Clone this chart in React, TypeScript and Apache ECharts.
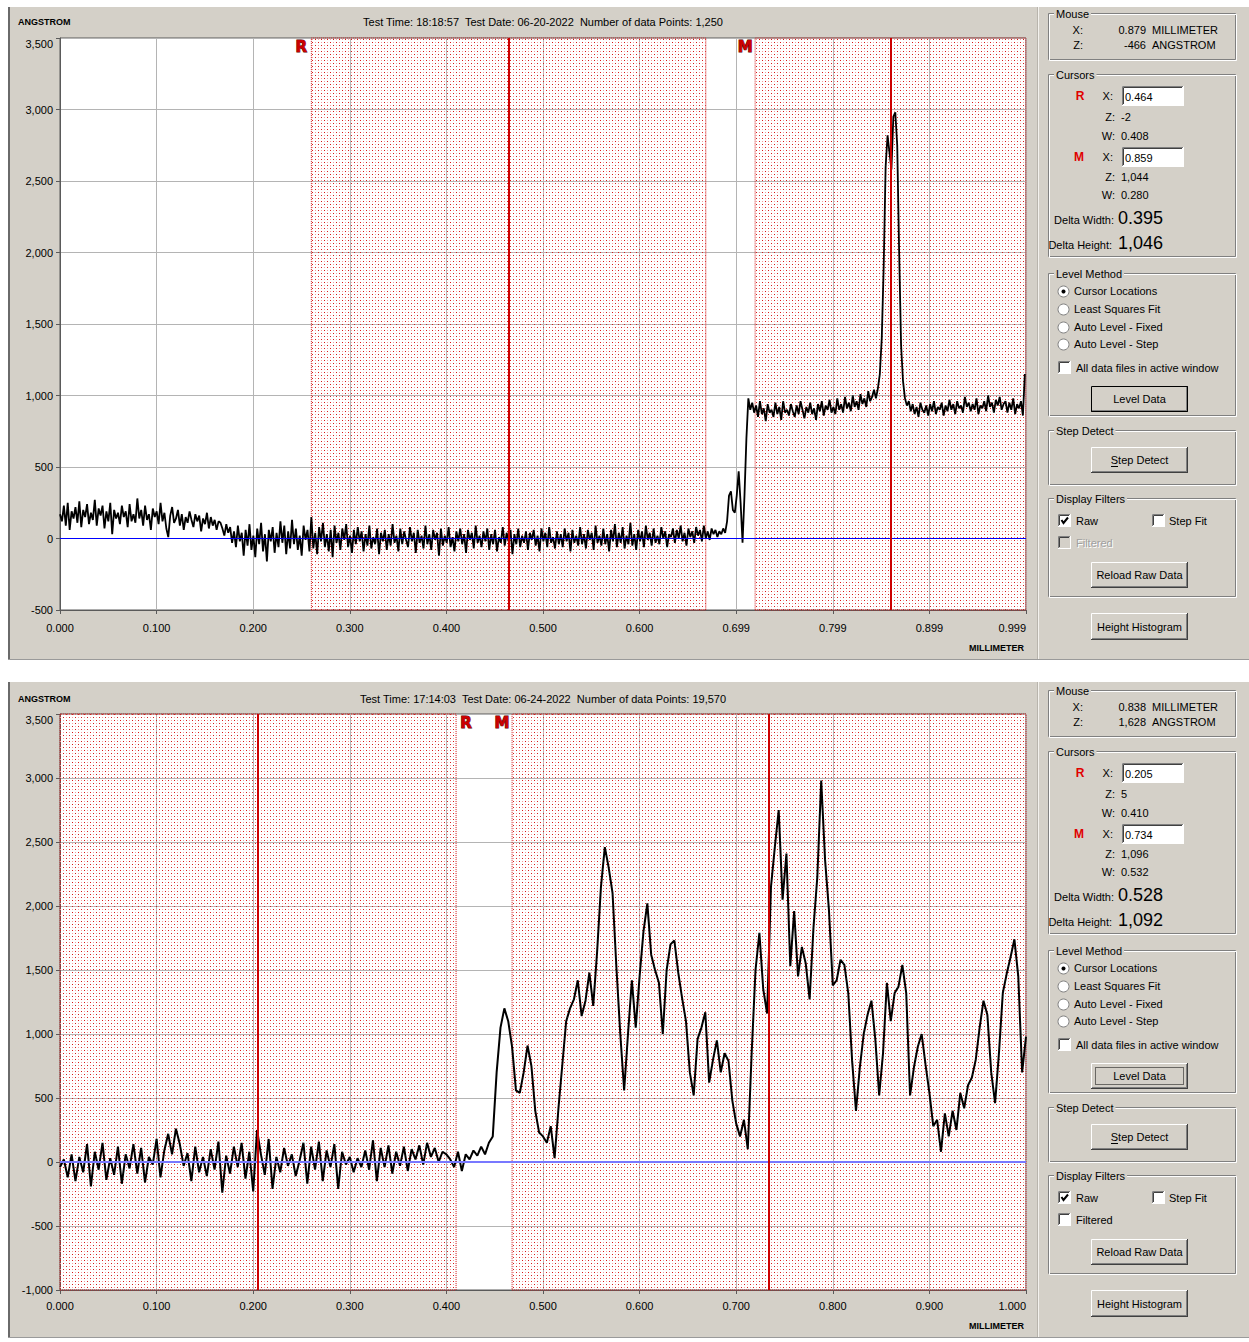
import React, { useEffect, useRef } from 'react';
import * as echarts from 'echarts';

const FONT = '"Liberation Sans", Arial, sans-serif';
const FACE = '#d4d0c8';

// ---------------- top profile (06-20-2022) ----------------
const TOP_X_STEP = 0.002;
const TOP_X_MAX = 0.9992;
const TOP_X_INTERVAL = 0.09992;
const topXTickLabels = ['0.000', '0.100', '0.200', '0.300', '0.400', '0.500', '0.600', '0.699', '0.799', '0.899', '0.999'];
const topYRange = [-500, 3500];
const topHeights = [
  170, 120, 230, 90, 250, 60, 190, 140, 220, 110,
  260, 80, 200, 150, 240, 100, 180, 130, 270, 90,
  210, 160, 230, 70, 190, 120, 250, 30, 200, 140,
  180, 100, 230, 150, 190, 80, 240, 120, 170, 110,
  280, 140, 200, 90, 230, 130, 170, 60, 210, 150,
  190, 100, 250, 120, 180, 70, 10, 160, 220, 110,
  140, 200, 90, 170, 60, 150, 110, 190, 130, 80,
  170, 120, 160, 50, 140, 100, 180, 70, 150, 90,
  130, 60, 120, 110, 70, 20, 100, 40, 80, -30,
  50, -60, 90, -20, 40, -120, 60, -50, 100, -80,
  20, -130, 70, -40, 110, -90, 30, -160, 60, -20,
  80, -100, 40, -60, 120, -30, 90, -110, 50, -70,
  130, -40, 70, -80, 20, -120, 90, -10, 60, -90,
  150, -70, 40, -110, 80, -20, 110, -60, 30, -90,
  60, -130, 90, -30, 40, -80, 70, -10, 100, -60,
  20, -100, 60, -40, 80, -20, 50, -90, 30, -50,
  90, -70, 10, -40, 70, -110, 40, -20, 60, -80,
  30, -50, 100, -30, 20, -90, 70, -40, 50, -10,
  -60, 80, -20, 40, -100, 60, -30, 20, -70, 90,
  -40, 30, -80, 60, -10, 40, -120, 70, -50, 20,
  -30, 80, -60, 10, -90, 50, -20, 70, -40, 30,
  -100, 60, -10, 40, -70, 90, -30, 20, -60, 50,
  -20, 70, -80, 30, -40, 60, -90, 10, -30, 80,
  -50, 40, -20, 60, -110, 30, -40, 70, -60, 20,
  -30, 50, -80, 40, -10, 60, -50, 20, -90, 70,
  -20, 40, -60, 80, -30, 10, -70, 50, -40, 30,
  -60, 70, -20, 40, -90, 60, -30, 20, -50, 80,
  -40, 30, -70, 60, -10, 40, -80, 90, -30, 20,
  -50, 70, -40, 30, -90, 60, -20, 100, -60, 40,
  -30, 80, -70, 20, -40, 110, -50, 30, -80, 60,
  -20, 50, -60, 90, -10, 40, -50, 70, -30, 20,
  -40, 80, 0, 50, -60, 30, 10, 70, -30, 60,
  0, 90, -20, 40, -50, 70, 10, 50, -30, 80,
  20, 60, -20, 90, 0, 50, -10, 70, 30, 60,
  10, 50, 30, 70, 40, 120, 300, 330, 200, 180,
  300, 470, 250, -30, 300, 700, 980, 900, 950, 880,
  930, 850, 960, 870, 910, 820, 940, 880, 900, 850,
  950, 870, 920, 830, 960, 880, 900, 860, 940, 890,
  850, 930, 870, 960, 900, 840, 920, 880, 950, 870,
  910, 830, 940, 890, 960, 860, 930, 900, 970, 880,
  920, 870, 980, 900, 940, 880, 990, 910, 950, 890,
  1000, 920, 960, 900, 1010, 940, 980, 920, 1030, 960,
  990, 1040, 980, 1050, 1150, 1400, 1900, 2600, 2820, 2700,
  2580, 2950, 2980, 2750, 2000, 1350, 1100, 980, 930, 960,
  890, 940, 870, 920, 850, 950, 900, 880, 930, 860,
  940, 890, 960, 870, 920, 900, 950, 860, 930, 890,
  970, 900, 940, 870, 960, 910, 930, 880, 990, 920,
  950, 890, 940, 900, 980, 870, 930, 910, 960, 890,
  1000, 920, 950, 880, 970, 930, 990, 900, 940, 960,
  880, 950, 900, 980, 870, 940, 910, 960, 860, 1150,
];
const topCursors = [
  { name: 'R', x: 0.464, w: 0.408, labelSide: 'start' },
  { name: 'M', x: 0.859, w: 0.280, labelSide: 'start' },
];

// ---------------- bottom profile (06-24-2022) ----------------
const BOTTOM_X_STEP = 0.004;
const BOTTOM_X_MAX = 1.0;
const BOTTOM_X_INTERVAL = 0.1;
const bottomXTickLabels = ['0.000', '0.100', '0.200', '0.300', '0.400', '0.500', '0.600', '0.700', '0.800', '0.900', '1.000'];
const bottomYRange = [-1000, 3500];
const bottomHeights = [
  -40, 20, -120, 60, -150, 40, -80, 140, -190, 80,
  -60, 150, -140, 30, -100, 120, -170, 60, -50, 140,
  -90, 110, -160, 40, -20, 180, -120, 90, 220, 60,
  260, 140, -30, 70, -150, 120, -80, 40, -110, 100,
  -60, 160, -240, 50, -90, 120, -40, 150, -130, 80,
  -230, 250, 60, -100, 180, -210, 40, -80, 110, -30,
  60, -110, 10, 150, -170, 120, -60, 160, -150, 90,
  -40, 140, -210, 80, -20, 40, -80, 30, -40, 90,
  -60, 170, -150, 110, -40, 130, -90, 80, -30, 120,
  -70, 100, 20, 130, -20, 150, 40, 110, 0, 80,
  60, 20, -40, 80, -70, 60, 20, 90, 50, 120,
  60, 150, 200, 700, 1050, 1200, 1100, 900, 560, 540,
  700, 910, 750, 400, 230, 200, 150, 280, 30, 420,
  760, 1100, 1200, 1270, 1420, 1140, 1260, 1480, 1220, 1640,
  2150, 2460, 2300, 2100, 1520, 1000, 560, 1000, 1420, 1050,
  1450, 1800, 2020, 1620, 1500, 1400, 1000, 1500, 1700, 1730,
  1480, 1280, 1100, 700, 520, 960, 1050, 1170, 620, 800,
  950, 700, 850, 790, 480, 300, 200, 330, 100, 850,
  1500, 1790, 1350, 1160, 2150, 2460, 2750, 2050, 2410, 1530,
  1960, 1450, 1680, 1550, 1270, 1830, 2230, 2980, 2360, 1970,
  1380, 1420, 1580, 1540, 1320, 790, 400, 740, 1000, 1150,
  1260, 960, 520, 850, 1400, 1100, 1320, 1370, 1540, 1320,
  520, 740, 900, 1000, 760, 540, 280, 330, 80, 380,
  200, 400, 250, 540, 420, 600, 660, 800, 1050, 1260,
  1150, 700, 460, 850, 1320, 1470, 1600, 1740, 1450, 700,
  980,
];
const bottomCursors = [
  { name: 'R', x: 0.205, w: 0.410, labelSide: 'end' },
  { name: 'M', x: 0.734, w: 0.532, labelSide: 'start' },
];

const topInfo = {
  title: 'Test Time: 18:18:57  Test Date: 06-20-2022  Number of data Points: 1,250',
  mouseX: '0.879', mouseZ: '-466',
  rX: '0.464', rZ: '-2', rW: '0.408',
  mX: '0.859', mZ: '1,044', mW: '0.280',
  dW: '0.395', dH: '1,046',
  filteredEnabled: false, levelFocus: false,
};
const bottomInfo = {
  title: 'Test Time: 17:14:03  Test Date: 06-24-2022  Number of data Points: 19,570',
  mouseX: '0.838', mouseZ: '1,628',
  rX: '0.205', rZ: '5', rW: '0.410',
  mX: '0.734', mZ: '1,096', mW: '0.532',
  dW: '0.528', dH: '1,092',
  filteredEnabled: true, levelFocus: true,
};

// ---------------- graphic helpers ----------------
const T = (x: number, y: number, text: string, o: any = {}) => ({
  type: 'text', x, y, z: o.z ?? 102, silent: true,
  style: {
    text, fill: o.fill ?? '#000',
    font: `${o.bold ? 'bold ' : ''}${o.size ?? 11}px ${o.family ?? FONT}`,
    align: o.align ?? 'left', verticalAlign: 'middle',
    ...(o.bg ? { backgroundColor: o.bg, padding: [0, 2] } : {}),
  },
});
const Rc = (x: number, y: number, w: number, h: number, style: any, z = 100) => ({
  type: 'rect', z, silent: true, shape: { x, y, width: w, height: h }, style,
});
const Ln = (x1: number, y1: number, x2: number, y2: number, stroke: string, lineWidth = 1, z = 101, extra: any = {}) => ({
  type: 'line', z, silent: true, shape: { x1, y1, x2, y2 }, style: { stroke, lineWidth, ...extra },
});

function groupBox(x: number, y: number, w: number, h: number, title: string) {
  return [
    Rc(x + 0.5, y + 0.5, w - 1, h - 1, { fill: 'none', stroke: '#808080' }, 100),
    Rc(x + 1.5, y + 1.5, w - 1, h - 1, { fill: 'none', stroke: '#ffffff' }, 100),
    T(x + 6, y + 1, title, { bg: FACE, z: 103 }),
  ];
}

function button(x: number, y: number, w: number, h: number, label: string, o: any = {}) {
  const els: any[] = [
    Rc(x, y, w, h, { fill: FACE }, 100),
    Ln(x + 0.5, y + 0.5, x + w - 1, y + 0.5, '#ffffff'),
    Ln(x + 0.5, y + 0.5, x + 0.5, y + h - 1, '#ffffff'),
    Ln(x, y + h - 0.5, x + w, y + h - 0.5, '#404040'),
    Ln(x + w - 0.5, y, x + w - 0.5, y + h, '#404040'),
    Ln(x + 1, y + h - 1.5, x + w - 1, y + h - 1.5, '#808080'),
    Ln(x + w - 1.5, y + 1, x + w - 1.5, y + h - 1, '#808080'),
    T(x + w / 2, y + h / 2, label, { align: 'center' }),
  ];
  if (o.isDefault) els.push(Rc(x + 0.5, y + 0.5, w - 1, h - 1, { fill: 'none', stroke: '#000000' }, 101));
  if (o.focus) els.push(Rc(x + 4.5, y + 4.5, w - 9, h - 9, { fill: 'none', stroke: '#000000', lineDash: [1, 1] }, 101));
  if (o.underline) els.push(Ln(o.underline[0], y + h / 2 + 6.5, o.underline[1], y + h / 2 + 6.5, '#000000'));
  return els;
}

function checkbox(x: number, y: number, checked: boolean, disabled = false) {
  const els: any[] = [
    Rc(x, y, 13, 13, { fill: disabled ? FACE : '#ffffff' }, 100),
    Ln(x + 0.5, y + 0.5, x + 12, y + 0.5, '#808080'),
    Ln(x + 0.5, y + 0.5, x + 0.5, y + 12, '#808080'),
    Ln(x + 1.5, y + 1.5, x + 11, y + 1.5, '#404040'),
    Ln(x + 1.5, y + 1.5, x + 1.5, y + 11, '#404040'),
    Ln(x, y + 12.5, x + 13, y + 12.5, '#ffffff'),
    Ln(x + 12.5, y, x + 12.5, y + 13, '#ffffff'),
  ];
  if (checked) {
    els.push({
      type: 'polyline', z: 102, silent: true,
      shape: { points: [[x + 3.5, y + 6], [x + 5.5, y + 9], [x + 10, y + 3.5]] },
      style: { stroke: '#000', lineWidth: 2, fill: 'none' },
    });
  }
  return els;
}

function radio(cx: number, cy: number, on: boolean) {
  const els: any[] = [
    { type: 'circle', z: 100, silent: true, shape: { cx, cy, r: 5.5 }, style: { fill: '#ffffff', stroke: '#808080', lineWidth: 1 } },
  ];
  if (on) els.push({ type: 'circle', z: 101, silent: true, shape: { cx, cy, r: 2 }, style: { fill: '#000000' } });
  return els;
}

function textbox(x: number, y: number, w: number, h: number, value: string) {
  return [
    Rc(x, y, w, h, { fill: '#ffffff' }, 100),
    Ln(x + 0.5, y + 0.5, x + w - 1, y + 0.5, '#808080'),
    Ln(x + 0.5, y + 0.5, x + 0.5, y + h - 1, '#808080'),
    Ln(x + 1.5, y + 1.5, x + w - 2, y + 1.5, '#404040'),
    Ln(x + 1.5, y + 1.5, x + 1.5, y + h - 2, '#404040'),
    Ln(x, y + h - 0.5, x + w, y + h - 0.5, '#ffffff'),
    Ln(x + w - 0.5, y, x + w - 0.5, y + h, '#ffffff'),
    T(x + 3, y + h / 2 + 0.5, value),
  ];
}

function sidePanel(dy: number, info: any) {
  const Y = (v: number) => v + dy;
  const e: any[] = [];
  e.push(...groupBox(1048, Y(13), 188, 47, 'Mouse'));
  e.push(T(1083, Y(30), 'X:', { align: 'right' }), T(1146, Y(30), info.mouseX, { align: 'right' }), T(1152, Y(30), 'MILLIMETER'));
  e.push(T(1083, Y(45), 'Z:', { align: 'right' }), T(1146, Y(45), info.mouseZ, { align: 'right' }), T(1152, Y(45), 'ANGSTROM'));
  e.push(...groupBox(1048, Y(74), 188, 183, 'Cursors'));
  e.push(T(1080, Y(96), 'R', { bold: true, size: 12, fill: '#e00000', align: 'center' }));
  e.push(T(1113, Y(96), 'X:', { align: 'right' }));
  e.push(...textbox(1122, Y(86), 62, 20, info.rX));
  e.push(T(1115, Y(117), 'Z:', { align: 'right' }), T(1121, Y(117), info.rZ));
  e.push(T(1115, Y(136), 'W:', { align: 'right' }), T(1121, Y(136), info.rW));
  e.push(T(1079, Y(157), 'M', { bold: true, size: 12, fill: '#e00000', align: 'center' }));
  e.push(T(1113, Y(157), 'X:', { align: 'right' }));
  e.push(...textbox(1122, Y(147), 62, 20, info.mX));
  e.push(T(1115, Y(177), 'Z:', { align: 'right' }), T(1121, Y(177), info.mZ));
  e.push(T(1115, Y(195), 'W:', { align: 'right' }), T(1121, Y(195), info.mW));
  e.push(T(1114, Y(220), 'Delta Width:', { align: 'right' }), T(1118, Y(218), info.dW, { size: 18 }));
  e.push(T(1112, Y(245), 'Delta Height:', { align: 'right' }), T(1118, Y(243), info.dH, { size: 18 }));
  e.push(...groupBox(1048, Y(273), 188, 143, 'Level Method'));
  const methods = ['Cursor Locations', 'Least Squares Fit', 'Auto Level - Fixed', 'Auto Level - Step'];
  const rows = [291, 309, 327, 344];
  methods.forEach((m, i) => {
    e.push(...radio(1063.5, Y(rows[i]) + 0.5, i === 0));
    e.push(T(1074, Y(rows[i]), m));
  });
  e.push(...checkbox(1058, Y(361), false));
  e.push(T(1076, Y(368), 'All data files in active window'));
  e.push(...button(1091, Y(386), 97, 26, 'Level Data', { isDefault: !info.levelFocus, focus: info.levelFocus }));
  e.push(...groupBox(1048, Y(430), 188, 55, 'Step Detect'));
  e.push(...button(1091, Y(447), 97, 26, 'Step Detect', { underline: [1111, 1118] }));
  e.push(...groupBox(1048, Y(498), 188, 99, 'Display Filters'));
  e.push(...checkbox(1058, Y(514), true));
  e.push(T(1076, Y(521), 'Raw'));
  e.push(...checkbox(1152, Y(514), false));
  e.push(T(1169, Y(521), 'Step Fit'));
  e.push(...checkbox(1058, Y(536), false, !info.filteredEnabled));
  if (info.filteredEnabled) {
    e.push(T(1076, Y(543), 'Filtered'));
  } else {
    e.push(T(1077, Y(544), 'Filtered', { fill: '#ffffff', z: 101 }));
    e.push(T(1076, Y(543), 'Filtered', { fill: '#a0a0a0' }));
  }
  e.push(...button(1091, Y(562), 97, 26, 'Reload Raw Data'));
  e.push(...button(1091, Y(613), 97, 27, 'Height Histogram'));
  return e;
}

function windowFrame(top: number, height: number, info: any, axisY: number, dy: number) {
  const e: any[] = [];
  e.push(Rc(8, top, 1241, height, { fill: FACE }, -10));
  e.push(Ln(9, top, 9, top + height, '#6a6a6a', 2, -9));
  e.push(Ln(8, top + height - 0.5, 1249, top + height - 0.5, '#9a9a9a', 1, -9));
  e.push(Ln(1037.5, top, 1037.5, top + height - 1, '#b8b4ac', 1, -9));
  e.push(Ln(1038.5, top, 1038.5, top + height - 1, '#f4f2ee', 1, -9));
  e.push(T(18, 22 + dy, 'ANGSTROM', { bold: true, size: 9 }));
  e.push(T(543, 22 + dy, info.title, { align: 'center', size: 11 }));
  e.push(T(1024, axisY, 'MILLIMETER', { bold: true, size: 9, align: 'right' }));
  e.push(...sidePanel(dy, info));
  return e;
}

function makeDotPattern() {
  const c = document.createElement('canvas');
  c.width = 6;
  c.height = 6;
  const ctx = c.getContext('2d')!;
  ctx.clearRect(0, 0, 6, 6);
  ctx.fillStyle = '#d81818';
  ctx.fillRect(0, 0, 1, 1);
  ctx.fillRect(3, 3, 1, 1);
  ctx.fillStyle = '#f2a0a0';
  ctx.fillRect(3, 0, 1, 1);
  ctx.fillRect(0, 3, 1, 1);
  return { image: c.toDataURL(), repeat: 'repeat', imageWidth: 6, imageHeight: 6 };
}

function buildChart(
  idx: number, heights: number[], step: number, xMax: number, xInterval: number, xLabels: string[],
  yRange: number[], cursors: any[], zeroStyle: any, pattern: any, top: number, height: number,
  labelMargin: number, lineWidth: number,
) {
  const grid = {
    left: 60, top, width: 966, height,
    show: true, backgroundColor: '#ffffff', borderColor: '#5a5a5a', borderWidth: 1,
  };
  const xAxis = {
    gridIndex: idx, type: 'value', min: 0, max: xMax, interval: xInterval,
    axisLine: { show: true, onZero: false, lineStyle: { color: '#5a5a5a', width: 1 } },
    axisTick: { show: true, length: 4, lineStyle: { color: '#5a5a5a' } },
    axisLabel: {
      color: '#000', fontSize: 11, fontFamily: FONT, margin: labelMargin, alignMaxLabel: 'right',
      formatter: (v: number) => xLabels[Math.round(v / xInterval)] ?? '',
    },
    splitLine: { show: true, lineStyle: { color: '#b4b4b4', width: 1 } },
  };
  const yAxis = {
    gridIndex: idx, type: 'value', min: yRange[0], max: yRange[1], interval: 500,
    axisLine: { show: true, lineStyle: { color: '#5a5a5a', width: 1 } },
    axisTick: { show: true, length: 4, lineStyle: { color: '#5a5a5a' } },
    axisLabel: {
      color: '#000', fontSize: 11, fontFamily: FONT, margin: 7, verticalAlignMaxLabel: 'top',
      formatter: (v: number) => v.toLocaleString('en-US'),
    },
    splitLine: { show: true, lineStyle: { color: '#b4b4b4', width: 1 } },
  };
  const series = [
    {
      type: 'line', xAxisIndex: idx, yAxisIndex: idx, data: [], z: 2, silent: true,
      markArea: {
        silent: true, label: { show: false },
        itemStyle: { color: pattern, borderColor: '#d01c1c', borderWidth: 1, borderType: 'dotted' },
        data: cursors.map((c) => [{ xAxis: c.x - c.w / 2 }, { xAxis: c.x + c.w / 2 }]),
      },
      markLine: {
        silent: true, symbol: ['none', 'none'], label: { show: false },
        lineStyle: { ...zeroStyle, type: 'solid' },
        data: [[{ coord: [0, 0] }, { coord: [xMax, 0] }]],
      },
    },
    {
      type: 'line', xAxisIndex: idx, yAxisIndex: idx, z: 3, silent: true,
      showSymbol: false, symbol: 'none',
      lineStyle: { color: '#000000', width: lineWidth },
      data: heights.map((v, i) => [Number((i * step).toFixed(4)), v]),
    },
    {
      type: 'line', xAxisIndex: idx, yAxisIndex: idx, data: [], z: 4, silent: true,
      markLine: {
        silent: true, symbol: ['none', 'none'], label: { show: false },
        lineStyle: { color: '#cc0000', width: 2, type: 'solid' },
        data: cursors.map((c) => [{ coord: [c.x, yRange[0]] }, { coord: [c.x, yRange[1]] }]),
      },
      markPoint: {
        silent: true, symbol: 'rect', symbolSize: 1, itemStyle: { color: 'rgba(0,0,0,0)' },
        data: cursors.map((c) => ({
          coord: [c.labelSide === 'start' ? c.x - c.w / 2 : c.x + c.w / 2, yRange[1]],
          label: {
            show: true, position: 'inside', formatter: c.name,
            offset: [c.labelSide === 'start' ? -10 : 10, 9],
            color: '#cc0000', fontWeight: 'bold', fontSize: 15, fontFamily: '"DejaVu Sans", sans-serif',
            textBorderColor: '#5a0000', textBorderWidth: 1,
          },
        })),
      },
    },
  ];
  return { grid, xAxis, yAxis, series };
}

function buildOption() {
  const pattern = makeDotPattern();
  const a = buildChart(0, topHeights, TOP_X_STEP, TOP_X_MAX, TOP_X_INTERVAL, topXTickLabels, topYRange, topCursors,
    { color: '#0000ff', width: 1 }, pattern, 38, 572, 12, 1.8);
  const b = buildChart(1, bottomHeights, BOTTOM_X_STEP, BOTTOM_X_MAX, BOTTOM_X_INTERVAL, bottomXTickLabels, bottomYRange, bottomCursors,
    { color: '#7878ff', width: 2 }, pattern, 714, 576, 10, 2);
  const elements = [
    ...windowFrame(7, 653, topInfo, 648, 0),
    ...windowFrame(682, 656, bottomInfo, 1326, 677),
  ];
  return {
    animation: false,
    backgroundColor: '#ffffff',
    grid: [a.grid, b.grid],
    xAxis: [a.xAxis, b.xAxis],
    yAxis: [a.yAxis, b.yAxis],
    series: [...a.series, ...b.series],
    graphic: { elements },
  };
}

export default function App() {
  const ref = useRef<HTMLDivElement>(null);
  useEffect(() => {
    if (!ref.current) return;
    const chart = echarts.init(ref.current, null, { renderer: 'svg', width: 1249, height: 1342 });
    chart.setOption(buildOption() as any);
    return () => chart.dispose();
  }, []);
  return <div ref={ref} style={{ position: 'absolute', left: 0, top: 0, width: 1249, height: 1342 }} />;
}
